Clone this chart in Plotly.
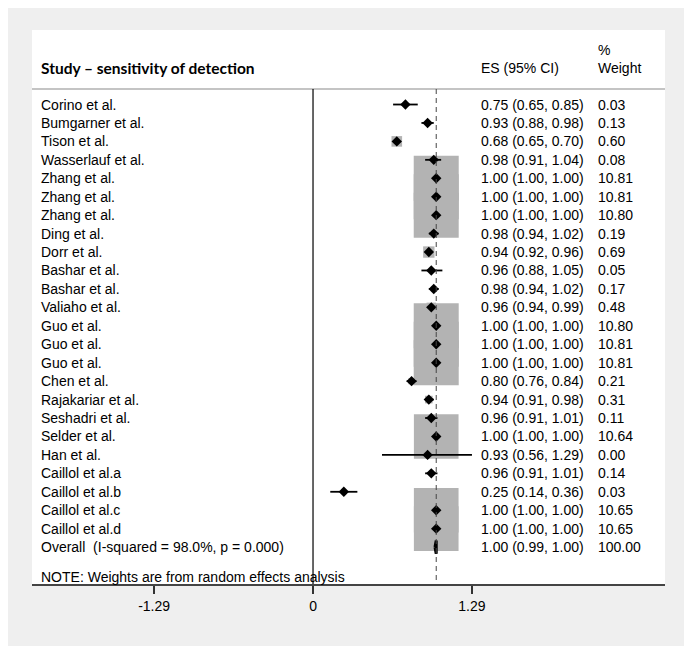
import plotly.graph_objects as go

studies = ["Corino et al.", "Bumgarner et al.", "Tison et al.", "Wasserlauf et al.",
           "Zhang et al.", "Zhang et al.", "Zhang et al.", "Ding et al.", "Dorr et al.",
           "Bashar et al.", "Bashar et al.", "Valiaho et al.", "Guo et al.", "Guo et al.",
           "Guo et al.", "Chen et al.", "Rajakariar et al.", "Seshadri et al.", "Selder et al.",
           "Han et al.", "Caillol et al.a", "Caillol et al.b", "Caillol et al.c", "Caillol et al.d"]
es = [0.75, 0.93, 0.68, 0.98, 1.00, 1.00, 1.00, 0.98, 0.94, 0.96, 0.98, 0.96, 1.00, 1.00,
      1.00, 0.80, 0.94, 0.96, 1.00, 0.93, 0.96, 0.25, 1.00, 1.00]
lo = [0.65, 0.88, 0.65, 0.91, 1.00, 1.00, 1.00, 0.94, 0.92, 0.88, 0.94, 0.94, 1.00, 1.00,
      1.00, 0.76, 0.91, 0.91, 1.00, 0.56, 0.91, 0.14, 1.00, 1.00]
hi = [0.85, 0.98, 0.70, 1.04, 1.00, 1.00, 1.00, 1.02, 0.96, 1.05, 1.02, 0.99, 1.00, 1.00,
      1.00, 0.84, 0.98, 1.01, 1.00, 1.29, 1.01, 0.36, 1.00, 1.00]
weights = [0.03, 0.13, 0.60, 0.08, 10.81, 10.81, 10.80, 0.19, 0.69, 0.05, 0.17, 0.48, 10.80,
           10.81, 10.81, 0.21, 0.31, 0.11, 10.64, 0.00, 0.14, 0.03, 10.65, 10.65]

overall_label = "Overall  (I-squared = 98.0%, p = 0.000)"
overall_es, overall_lo, overall_hi, overall_w = 1.00, 0.99, 1.00, 100.00
note = "NOTE: Weights are from random effects analysis"
tick_vals = [-1.29, 0, 1.29]
tick_text = ["-1.29", "0", "1.29"]

W, H = 692, 646
ML, MR, MT, MB = 24, 35, 22, 70
XR = [-2.281, 2.857]
YR = [26.0, -4.04]
px_x = (W - ML - MR) / (XR[1] - XR[0])
px_y = (H - MT - MB) / (YR[0] - YR[1])

FONT = "Liberation Sans"
FS = 14
n = len(studies)
rows = list(range(n))
ov_row = n

fig = go.Figure()

shapes = []
max_side = 45.0
for i in rows:
    w = weights[i]
    if w <= 0:
        continue
    side = max_side * (w / 10.81) ** 0.5
    hx = side / 2 / px_x
    hy = side / 2 / px_y
    shapes.append(dict(type="rect", xref="x", yref="y", x0=es[i] - hx, x1=es[i] + hx,
                       y0=i - hy, y1=i + hy, fillcolor="#b3b3b3", line=dict(width=0),
                       layer="below"))

line_top = -0.84
shapes.append(dict(type="line", xref="x", yref="y", x0=XR[0], x1=XR[1], y0=line_top, y1=line_top,
                   line=dict(color="#b0b0b0", width=1.5)))
shapes.append(dict(type="line", xref="x", yref="y", x0=0, x1=0, y0=line_top, y1=YR[0],
                   line=dict(color="black", width=1.2)))
shapes.append(dict(type="line", xref="x", yref="y", x0=overall_es, x1=overall_es, y0=line_top,
                   y1=YR[0], line=dict(color="#444444", width=1, dash="5px,4px")))

fig.add_trace(go.Scatter(
    x=es, y=rows, mode="markers",
    marker=dict(symbol="diamond", size=8, color="black"),
    error_x=dict(type="data", symmetric=False,
                 array=[h - e for h, e in zip(hi, es)],
                 arrayminus=[e - l for e, l in zip(es, lo)],
                 thickness=1.8, width=0, color="black"),
    hoverinfo="skip", showlegend=False))

dh = 0.36
fig.add_trace(go.Scatter(
    x=[overall_lo, overall_es, overall_hi, overall_es, overall_lo],
    y=[ov_row, ov_row - dh, ov_row, ov_row + dh, ov_row],
    mode="lines", fill="toself", fillcolor="black",
    line=dict(color="black", width=3), hoverinfo="skip", showlegend=False))

x_lab = -2.224
x_es = 1.347
x_w = 2.297
ann = []
def txt(x, y, s, size=FS, family=FONT, bold=False):
    ann.append(dict(x=x, y=y, xref="x", yref="y", text=f"<b>{s}</b>" if bold else s,
                    showarrow=False, xanchor="left", yanchor="middle",
                    font=dict(family=family, size=size, color="black")))

for i in rows:
    txt(x_lab, i, studies[i])
    txt(x_es, i, f"{es[i]:.2f} ({lo[i]:.2f}, {hi[i]:.2f})")
    txt(x_w, i, f"{weights[i]:.2f}")
txt(x_lab, ov_row, overall_label)
txt(x_es, ov_row, f"{overall_es:.2f} ({overall_lo:.2f}, {overall_hi:.2f})")
txt(x_w, ov_row, f"{overall_w:.2f}")
txt(x_lab, 25.62, note)

txt(x_lab, -1.98, "Study – sensitivity of detection", size=15.5, family="Lato", bold=True)
txt(x_es, -1.98, "ES (95% CI)")
txt(x_w, -1.98, "Weight")
txt(x_w, -2.96, "%")

fig.update_layout(
    width=W, height=H,
    margin=dict(l=ML, r=MR, t=MT, b=MB, pad=0),
    paper_bgcolor="#efefef", plot_bgcolor="white",
    shapes=shapes, annotations=ann,
    xaxis=dict(range=XR, tickvals=tick_vals, ticktext=tick_text, ticks="outside",
               ticklen=8, tickwidth=1.5, tickcolor="#333", showline=True,
               linecolor="#444", linewidth=1.5, showgrid=False, zeroline=False,
               tickfont=dict(family=FONT, size=FS, color="black"), fixedrange=True),
    yaxis=dict(range=YR, visible=False, showgrid=False, zeroline=False, fixedrange=True),
)

fig.write_html("out.html")
